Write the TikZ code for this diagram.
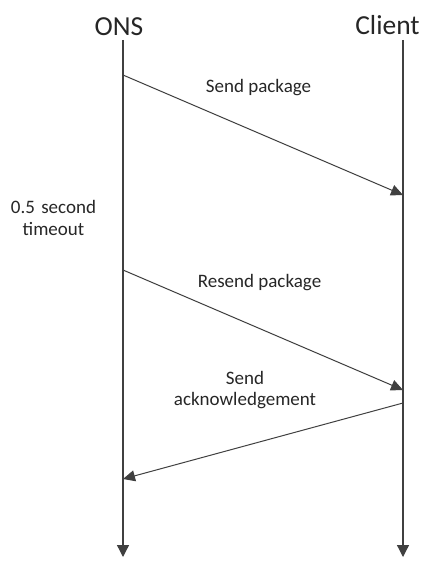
\documentclass[tikz,border=0pt]{standalone}
\usepackage{fontspec}
\setmainfont{Carlito}
\usetikzlibrary{arrows.meta}
\begin{document}
\begin{tikzpicture}[x=1pt,y=-1pt,
  lifeline/.style={draw=black!75, line width=1.3pt, -{Triangle[length=12pt,width=12pt]}},
  msg/.style={draw=black!75, line width=1pt, -{Triangle[length=12pt,width=11pt]}},
  actor/.style={font=\fontsize{27.5}{30}\selectfont, text=black!85},
  lbl/.style={font=\fontsize{19}{21.5}\selectfont, text=black!85, align=center}]
\useasboundingbox (0,0) rectangle (423,561);
% participants
\node[actor] (ons) at (119,27) {ONS};
\node[actor] (client) at (387.5,25) {Client};
\coordinate (onsTop) at (123,40);
\coordinate (onsEnd) at (123,557);
\coordinate (clTop) at (403,40);
\coordinate (clEnd) at (403,557);
\draw[lifeline] (onsTop) -- (onsEnd);
\draw[lifeline] (clTop) -- (clEnd);
% message anchor points on the lifelines
\coordinate (s1) at (123,75);
\coordinate (r1) at (403,195);
\coordinate (s2) at (123,270);
\coordinate (r2) at (403,390);
\coordinate (s3) at (403,403);
\coordinate (r3) at (123,479);
\draw[msg] (s1) -- (r1);
\draw[msg] (s2) -- (r2);
\draw[msg] (s3) -- (r3);
% labels
\node[lbl] (l1) at (258.5,88) {Send package};
\node[lbl] (l2) at (259.5,283) {Resend package};
\node[lbl, text width=170pt] (l3) at (245,390) {Send\\acknowledgement};
\node[lbl, text width=120pt] (l4) at (53.5,218) {0.5 second\\timeout};
\end{tikzpicture}
\end{document}
